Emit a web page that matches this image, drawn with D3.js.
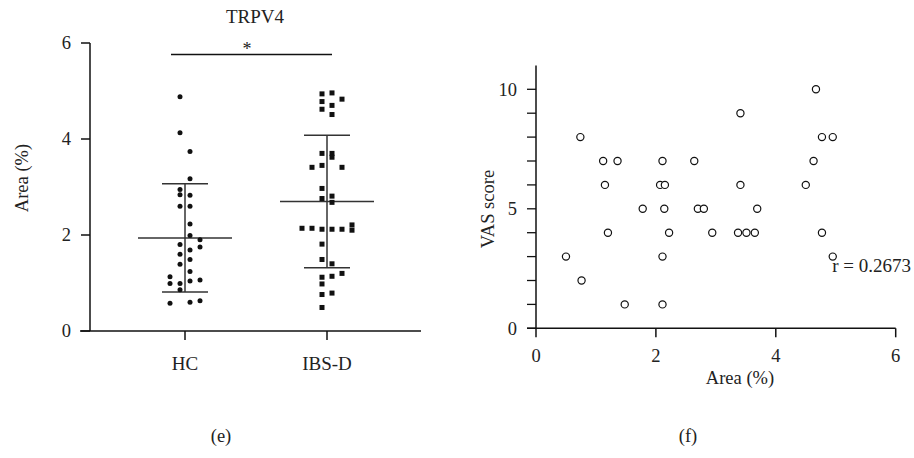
<!DOCTYPE html>
<html><head><meta charset="utf-8">
<script src="https://cdn.jsdelivr.net/npm/d3@7"></script>
<style>
body{margin:0;background:#fff}
text{font-family:"Liberation Serif","Times New Roman",serif;fill:#222}
</style></head>
<body><svg id="c" width="914" height="458"></svg>
<script>
// ---------- Panel (e) data ----------
const groups = ["HC", "IBS-D"];
const hcValues = [4.88,4.13,3.74,3.17,2.95,2.84,2.83,2.60,2.60,2.23,1.99,1.90,1.80,1.75,1.69,1.60,1.49,1.39,1.24,1.13,0.99,0.99,1.04,1.06,0.86,0.58,0.60,0.63];
const hcSlot   = [-0.5,-0.5,0.5,0.5,-0.5,-0.5,0.5,-0.5,0.5,0.5,0.5,1.5,-0.5,1.5,0.5,-0.5,0.5,-0.5,0.5,-1.5,-1.5,-0.5,0.5,1.5,-0.5,-1.5,0.5,1.5];
const ibsValues = [4.94,4.96,4.78,4.83,4.62,4.70,4.51,3.70,3.70,3.62,3.41,3.45,3.41,2.97,2.76,2.81,2.68,2.14,2.14,2.12,2.12,2.12,2.21,2.10,1.81,1.49,1.40,1.12,1.14,1.20,0.98,0.76,0.79,0.49];
const ibsSlot   = [-0.5,0.5,-0.5,1.5,-0.5,0.5,0.5,-0.5,0.5,0.5,-1.5,-0.5,1.5,-0.5,-0.5,0.5,0.5,-2.5,-1.5,-0.5,0.5,1.5,2.5,2.5,-0.5,-0.5,0.5,-0.5,0.5,1.5,-0.5,-0.5,0.5,-0.5];
const groupMean = [1.94, 2.70];
const groupSD   = [1.13, 1.38];
const leftYTicks = [0, 2, 4, 6];

// ---------- Panel (f) data ----------
const areaX = [0.74,1.12,1.36,2.11,2.64,1.15,2.07,2.15,1.78,2.14,2.70,2.80,1.20,2.22,2.94,0.50,2.11,0.76,1.48,2.11,
               4.67,3.41,4.77,4.95,4.63,3.41,4.50,3.69,3.37,3.51,3.65,4.77,4.95];
const vasY  = [8,7,7,7,7,6,6,6,5,5,5,5,4,4,4,3,3,2,1,1,
               10,9,8,8,7,6,6,5,4,4,4,4,3];
const rightXTicks = [0, 2, 4, 6];
const rightYTicks = [0,1,2,3,4,5,6,7,8,9,10];
const rightYLabels = [0, 5, 10];

const svg = d3.select("#c");
const FS = 18.5;

// ================= Panel (e) =================
const yL = d3.scaleLinear().domain([0, 6]).range([331, 43]);
const xL = d3.scaleBand().domain(groups).range([114, 398]);
const cx = g => xL(g) + xL.bandwidth() / 2;
const slotW = 10;

const gL = svg.append("g");
gL.append("line").attr("x1", 90).attr("x2", 90).attr("y1", yL(6)).attr("y2", yL(0)).attr("stroke", "#111").attr("stroke-width", 1.5);
gL.append("line").attr("x1", 80).attr("x2", 421).attr("y1", yL(0)).attr("y2", yL(0)).attr("stroke", "#111").attr("stroke-width", 1.5);
leftYTicks.forEach(t => {
  gL.append("line").attr("x1", 81).attr("x2", 90).attr("y1", yL(t)).attr("y2", yL(t)).attr("stroke", "#111").attr("stroke-width", 1.5);
  gL.append("text").attr("x", 71).attr("y", yL(t)).attr("dy", "0.35em").attr("text-anchor", "end").attr("font-size", FS).text(t);
});
groups.forEach(g => {
  gL.append("line").attr("x1", cx(g)).attr("x2", cx(g)).attr("y1", yL(0)).attr("y2", yL(0) + 9).attr("stroke", "#111").attr("stroke-width", 1.5);
  gL.append("text").attr("x", cx(g)).attr("y", 370).attr("text-anchor", "middle").attr("font-size", 19).text(g);
});
gL.append("text").attr("transform", `translate(28,178) rotate(-90)`).attr("text-anchor", "middle").attr("font-size", FS).text("Area (%)");
gL.append("text").attr("x", 255).attr("y", 23).attr("text-anchor", "middle").attr("font-size", 19).text("TRPV4");
gL.append("line").attr("x1", 171).attr("x2", 332).attr("y1", 54.5).attr("y2", 54.5).attr("stroke", "#111").attr("stroke-width", 1.3);
gL.append("text").attr("x", 247).attr("y", 55).attr("text-anchor", "middle").attr("font-size", 18).text("*");

groups.forEach((g, i) => {
  const c = cx(g);
  const m = groupMean[i], s = groupSD[i];
  const col = "#333";
  gL.append("line").attr("x1", c).attr("x2", c).attr("y1", yL(m + s)).attr("y2", yL(m - s)).attr("stroke", col).attr("stroke-width", 1.5);
  gL.append("line").attr("x1", c - 23).attr("x2", c + 23).attr("y1", yL(m + s)).attr("y2", yL(m + s)).attr("stroke", col).attr("stroke-width", 1.5);
  gL.append("line").attr("x1", c - 23).attr("x2", c + 23).attr("y1", yL(m - s)).attr("y2", yL(m - s)).attr("stroke", col).attr("stroke-width", 1.5);
  gL.append("line").attr("x1", c - 47).attr("x2", c + 47).attr("y1", yL(m)).attr("y2", yL(m)).attr("stroke", col).attr("stroke-width", 1.5);
});
gL.selectAll("circle.hc").data(hcValues).enter().append("circle")
  .attr("cx", (d, i) => cx("HC") + hcSlot[i] * slotW).attr("cy", d => yL(d)).attr("r", 2.5).attr("fill", "#111");
gL.selectAll("rect.ibs").data(ibsValues).enter().append("rect")
  .attr("x", (d, i) => cx("IBS-D") + ibsSlot[i] * slotW - 2.5).attr("y", d => yL(d) - 2.5).attr("width", 5).attr("height", 5).attr("fill", "#111");
gL.append("text").attr("x", 221).attr("y", 442).attr("text-anchor", "middle").attr("font-size", FS).text("(e)");

// ================= Panel (f) =================
const xR = d3.scaleLinear().domain([0, 6]).range([536, 895.7]);
const yR = d3.scaleLinear().domain([0, 11]).range([328.3, 65.4]);
const gR = svg.append("g");
gR.append("line").attr("x1", 536).attr("x2", 536).attr("y1", yR(11)).attr("y2", yR(0)).attr("stroke", "#111").attr("stroke-width", 1.5);
gR.append("line").attr("x1", 527).attr("x2", xR(6)).attr("y1", yR(0)).attr("y2", yR(0)).attr("stroke", "#111").attr("stroke-width", 1.5);
rightYTicks.forEach(t => {
  gR.append("line").attr("x1", 527).attr("x2", 536).attr("y1", yR(t)).attr("y2", yR(t)).attr("stroke", "#111").attr("stroke-width", 1.3);
});
rightYLabels.forEach(t => {
  gR.append("text").attr("x", 517).attr("y", yR(t)).attr("dy", "0.35em").attr("text-anchor", "end").attr("font-size", FS).text(t);
});
rightXTicks.forEach(t => {
  gR.append("line").attr("x1", xR(t)).attr("x2", xR(t)).attr("y1", yR(0)).attr("y2", yR(0) + 9).attr("stroke", "#111").attr("stroke-width", 1.5);
  gR.append("text").attr("x", xR(t)).attr("y", 362).attr("text-anchor", "middle").attr("font-size", FS).text(t);
});
gR.append("text").attr("transform", `translate(494,209) rotate(-90)`).attr("text-anchor", "middle").attr("font-size", FS).text("VAS score");
gR.append("text").attr("x", 740).attr("y", 384).attr("text-anchor", "middle").attr("font-size", FS).text("Area (%)");
gR.append("text").attr("x", 911).attr("y", 272).attr("text-anchor", "end").attr("font-size", 19).text("r = 0.2673");
gR.selectAll("circle.pt").data(areaX).enter().append("circle")
  .attr("cx", d => xR(d)).attr("cy", (d, i) => yR(vasY[i])).attr("r", 3.6)
  .attr("fill", "#fff").attr("stroke", "#111").attr("stroke-width", 1.2);
gR.append("text").attr("x", 688).attr("y", 442).attr("text-anchor", "middle").attr("font-size", FS).text("(f)");
</script></body></html>
